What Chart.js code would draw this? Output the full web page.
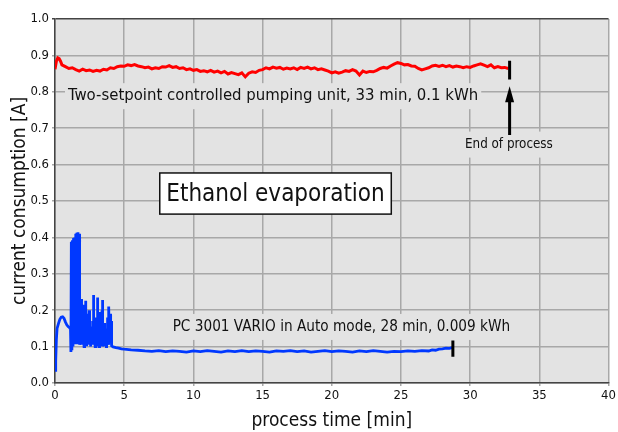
<!DOCTYPE html>
<html>
<head>
<meta charset="utf-8">
<script src="https://cdn.jsdelivr.net/npm/chart.js@4.4.1/dist/chart.umd.min.js"></script>
<style>
  html, body { margin: 0; padding: 0; background: #fff; }
  #wrap { width: 618px; height: 432px; }
</style>
</head>
<body>
<div id="wrap"><canvas id="chart" width="618" height="432"></canvas></div>
<script>
// two-setpoint pumping unit (red)
var redTime = [0, 0.1, 0.2, 0.3, 0.4, 0.5, 0.75, 1, 1.25, 1.5, 1.75, 2, 2.25, 2.5, 2.75, 3, 3.25, 3.5, 3.75, 4,
    4.25, 4.5, 4.75, 5, 5.25, 5.5, 5.75, 6, 6.25, 6.5, 6.75, 7, 7.25, 7.5, 7.75, 8, 8.25, 8.5, 8.75, 9,
    9.25, 9.5, 9.75, 10, 10.25, 10.5, 10.75, 11, 11.25, 11.5, 11.75, 12, 12.25, 12.5, 12.75, 13, 13.25, 13.5, 13.75, 14,
    14.25, 14.5, 14.75, 15, 15.25, 15.5, 15.75, 16, 16.25, 16.5, 16.75, 17, 17.25, 17.5, 17.75, 18, 18.25, 18.5, 18.75, 19,
    19.25, 19.5, 19.75, 20, 20.25, 20.5, 20.75, 21, 21.25, 21.5, 21.75, 22, 22.25, 22.5, 22.75, 23, 23.25, 23.5, 23.75, 24,
    24.25, 24.5, 24.75, 25, 25.25, 25.5, 25.75, 26, 26.25, 26.5, 26.75, 27, 27.25, 27.5, 27.75, 28, 28.25, 28.5, 28.75, 29,
    29.25, 29.5, 29.75, 30, 30.25, 30.5, 30.75, 31, 31.25, 31.5, 31.75, 32, 32.25, 32.5, 32.75];
var redCurrent = [0.862, 0.884, 0.893, 0.891, 0.884, 0.874, 0.869, 0.864, 0.866, 0.861, 0.857, 0.862, 0.858, 0.860, 0.856, 0.859, 0.857, 0.862, 0.860, 0.866,
    0.864, 0.869, 0.871, 0.870, 0.874, 0.872, 0.875, 0.871, 0.869, 0.866, 0.868, 0.863, 0.866, 0.864, 0.869, 0.868, 0.872, 0.867, 0.869, 0.864,
    0.866, 0.861, 0.863, 0.859, 0.861, 0.856, 0.858, 0.855, 0.859, 0.854, 0.857, 0.852, 0.856, 0.849, 0.853, 0.850, 0.847, 0.852, 0.841, 0.851,
    0.855, 0.853, 0.859, 0.861, 0.866, 0.863, 0.868, 0.865, 0.867, 0.862, 0.865, 0.863, 0.866, 0.861, 0.867, 0.864, 0.868, 0.863, 0.866, 0.861,
    0.863, 0.860, 0.857, 0.852, 0.855, 0.851, 0.854, 0.858, 0.856, 0.861, 0.857, 0.846, 0.857, 0.853, 0.856, 0.855, 0.859, 0.864, 0.867, 0.865,
    0.871, 0.876, 0.880, 0.878, 0.874, 0.875, 0.871, 0.870, 0.864, 0.860, 0.863, 0.866, 0.871, 0.873, 0.870, 0.873, 0.869, 0.872, 0.868, 0.871,
    0.869, 0.866, 0.869, 0.867, 0.871, 0.874, 0.877, 0.873, 0.869, 0.874, 0.866, 0.869, 0.866, 0.867, 0.864];

// PC 3001 VARIO (blue)
var blueTime = [0, 0.05, 0.1, 0.15, 0.25, 0.35, 0.45, 0.55, 0.65, 0.75, 0.85, 0.95, 1.05, 1.12,
    1.15, 1.18, 1.22, 1.26, 1.3, 1.34, 1.38, 1.42, 1.46, 1.5, 1.54, 1.58, 1.62, 1.66, 1.7, 1.74, 1.78,
    1.82, 1.84, 1.86, 1.88, 1.9, 1.92, 1.94, 1.96, 1.98, 2.0, 2.02, 2.04, 2.06, 2.08, 2.1, 2.12, 2.14, 2.16, 2.18, 2.2,
    2.22, 2.24, 2.26, 2.28, 2.3, 2.32, 2.34, 2.36, 2.38, 2.4, 2.42, 2.44, 2.46, 2.48, 2.5, 2.52, 2.54, 2.56, 2.58, 2.6,
    2.62, 2.64, 2.66, 2.68, 2.7, 2.72, 2.74, 2.76, 2.78, 2.8, 2.82, 2.84, 2.86, 2.88, 2.9, 2.92, 2.94, 2.96, 2.98, 3.0,
    3.02, 3.04, 3.06, 3.08, 3.1, 3.12, 3.14, 3.16, 3.18, 3.2, 3.22, 3.24, 3.26, 3.28, 3.3, 3.32, 3.34, 3.36, 3.38, 3.4,
    3.42, 3.44, 3.46, 3.48, 3.5, 3.52, 3.54, 3.56, 3.58, 3.6, 3.62, 3.64, 3.66, 3.68, 3.7, 3.72, 3.74, 3.76, 3.78, 3.8,
    3.82, 3.84, 3.86, 3.88, 3.9, 3.92, 3.94, 3.96, 3.98, 4.0, 4.02, 4.04, 4.06, 4.08, 4.1, 4.2, 4.4, 4.6, 4.8, 5,
    5.5, 6, 6.5, 7, 7.5, 8, 8.5, 9, 9.5, 10, 10.5, 11, 11.5, 12, 12.5, 13, 13.5, 14, 14.5, 15,
    15.5, 16, 16.5, 17, 17.5, 18, 18.5, 19, 19.5, 20, 20.5, 21, 21.5, 22, 22.5, 23, 23.5, 24, 24.5, 25,
    25.5, 26, 26.5, 27, 27.25, 27.5, 27.75, 28, 28.25, 28.5, 28.7];
var blueCurrent = [0.035, 0.06, 0.12, 0.15, 0.163, 0.175, 0.181, 0.182, 0.178, 0.168, 0.16, 0.155, 0.152, 0.148,
    0.085, 0.388, 0.09, 0.392, 0.10, 0.398, 0.11, 0.40, 0.12, 0.41, 0.11, 0.413, 0.12, 0.414, 0.11, 0.41, 0.105,
    0.12, 0.16, 0.11, 0.19, 0.231, 0.12, 0.105, 0.15, 0.16, 0.11, 0.13, 0.17, 0.215, 0.12, 0.10, 0.14, 0.17, 0.11, 0.13, 0.16,
    0.226, 0.12, 0.105, 0.14, 0.15, 0.11, 0.19, 0.13, 0.11, 0.14, 0.16, 0.12, 0.20, 0.13, 0.105, 0.15, 0.14, 0.11, 0.10, 0.13,
    0.155, 0.12, 0.11, 0.15, 0.17, 0.12, 0.105, 0.16, 0.242, 0.13, 0.11, 0.14, 0.15, 0.12, 0.10, 0.15, 0.18, 0.12, 0.105, 0.13,
    0.14, 0.17, 0.235, 0.12, 0.11, 0.13, 0.16, 0.12, 0.10, 0.15, 0.195, 0.12, 0.11, 0.14, 0.15, 0.12, 0.105, 0.14, 0.17, 0.20,
    0.228, 0.12, 0.10, 0.13, 0.14, 0.12, 0.11, 0.14, 0.165, 0.12, 0.105, 0.13, 0.13, 0.11, 0.10, 0.13, 0.15, 0.12, 0.11, 0.14,
    0.18, 0.12, 0.105, 0.15, 0.21, 0.13, 0.11, 0.15, 0.19, 0.12, 0.12, 0.15, 0.17, 0.11, 0.102, 0.099, 0.097, 0.096, 0.094, 0.093,
    0.091, 0.090, 0.088, 0.087, 0.089, 0.086, 0.088, 0.087, 0.085, 0.088, 0.086, 0.089, 0.087, 0.085, 0.088, 0.086, 0.089, 0.086, 0.088, 0.087,
    0.085, 0.088, 0.087, 0.089, 0.086, 0.088, 0.085, 0.087, 0.089, 0.086, 0.088, 0.087, 0.085, 0.088, 0.086, 0.089, 0.087, 0.085, 0.087, 0.086,
    0.088, 0.087, 0.089, 0.088, 0.091, 0.090, 0.093, 0.094, 0.096, 0.095, 0.097];

var xTicks = [0, 5, 10, 15, 20, 25, 30, 35, 40];
var yTicks = [0, 0.1, 0.2, 0.3, 0.4, 0.5, 0.6, 0.7, 0.8, 0.9, 1.0];

var FONT = "'DejaVu Sans Condensed', 'DejaVu Sans', sans-serif";
var PLOT_BG = '#e3e3e3';

function toPoints(xs, ys) {
    var pts = [];
    for (let i = 0; i < xs.length; i++) {
        pts.push({ x: xs[i], y: ys[i] });
    }
    return pts;
}

// grey plot area
var plotBackground = {
    id: 'plotBackground',
    beforeDraw: function(chart) {
        var a = chart.chartArea;
        var ctx = chart.ctx;
        ctx.save();
        ctx.fillStyle = PLOT_BG;
        ctx.fillRect(a.left, a.top, a.right - a.left, a.bottom - a.top);
        ctx.restore();
    }
};

function boxedText(ctx, text, x, y, align) {
    var w = ctx.measureText(text).width;
    var left = align === 'center' ? x - w / 2 : x;
    ctx.fillStyle = PLOT_BG;
    ctx.fillRect(left - 3, y - 13, w + 6, 26);
    ctx.fillStyle = '#111';
    ctx.textAlign = align;
    ctx.textBaseline = 'middle';
    ctx.fillText(text, x, y);
}

// texts, end-of-process marks and arrow
var annotations = {
    id: 'annotations',
    beforeDatasetsDraw: function(chart) {
        var ctx = chart.ctx;
        var xs = chart.scales.x, ys = chart.scales.y;
        ctx.save();
        ctx.font = '16.6px ' + FONT;
        boxedText(ctx, 'Two-setpoint controlled pumping unit, 33 min, 0.1 kWh', xs.getPixelForValue(0.94), ys.getPixelForValue(0.788), 'left');
        ctx.font = '15.2px ' + FONT;
        boxedText(ctx, 'PC 3001 VARIO in Auto mode, 28 min, 0.009 kWh', xs.getPixelForValue(8.5), ys.getPixelForValue(0.154), 'left');
        ctx.font = '13.3px ' + FONT;
        boxedText(ctx, 'End of process', xs.getPixelForValue(32.8), ys.getPixelForValue(0.655), 'center');

        // title box
        var bx0 = xs.getPixelForValue(7.57), bx1 = xs.getPixelForValue(24.3);
        var by0 = ys.getPixelForValue(0.577), by1 = ys.getPixelForValue(0.464);
        ctx.fillStyle = '#fff';
        ctx.fillRect(bx0, by0, bx1 - bx0, by1 - by0);
        ctx.strokeStyle = '#111';
        ctx.lineWidth = 1.5;
        ctx.strokeRect(bx0, by0, bx1 - bx0, by1 - by0);
        ctx.font = '24px ' + FONT;
        ctx.fillStyle = '#111';
        ctx.textAlign = 'center';
        ctx.textBaseline = 'middle';
        ctx.fillText('Ethanol evaporation', (bx0 + bx1) / 2, (by0 + by1) / 2 + 1);
        ctx.restore();
    },
    afterDatasetsDraw: function(chart) {
        var ctx = chart.ctx;
        var xs = chart.scales.x, ys = chart.scales.y;
        ctx.save();
        ctx.strokeStyle = '#000';
        ctx.lineWidth = 3;
        var rx = xs.getPixelForValue(32.85);
        ctx.beginPath();
        ctx.moveTo(rx, ys.getPixelForValue(0.885));
        ctx.lineTo(rx, ys.getPixelForValue(0.834));
        var bx = xs.getPixelForValue(28.75);
        ctx.moveTo(bx, ys.getPixelForValue(0.117));
        ctx.lineTo(bx, ys.getPixelForValue(0.072));
        // arrow shaft
        ctx.moveTo(rx, ys.getPixelForValue(0.681));
        ctx.lineTo(rx, ys.getPixelForValue(0.79));
        ctx.stroke();
        // arrow head
        var tip = ys.getPixelForValue(0.815);
        ctx.fillStyle = '#000';
        ctx.beginPath();
        ctx.moveTo(rx, tip);
        ctx.lineTo(rx - 4.5, tip + 16);
        ctx.lineTo(rx + 4.5, tip + 16);
        ctx.closePath();
        ctx.fill();
        ctx.restore();
    }
};

new Chart(document.getElementById('chart'), {
    type: 'line',
    data: {
        datasets: [
            {
                label: 'Two-setpoint controlled pumping unit',
                data: toPoints(redTime, redCurrent),
                borderColor: '#ff0000',
                borderWidth: 3,
                pointRadius: 0,
                tension: 0
            },
            {
                label: 'PC 3001 VARIO',
                data: toPoints(blueTime, blueCurrent),
                borderColor: '#0038ff',
                borderWidth: 2.8,
                pointRadius: 0,
                tension: 0
            }
        ]
    },
    options: {
        responsive: false,
        animation: false,
        layout: { padding: { top: 19, right: 7, left: 0, bottom: 0 } },
        plugins: {
            legend: { display: false },
            tooltip: { enabled: false }
        },
        scales: {
            x: {
                type: 'linear',
                min: 0,
                max: 40,
                afterBuildTicks: function(scale) {
                    scale.ticks = xTicks.map(function(v) { return { value: v }; });
                },
                afterFit: function(scale) { scale.height = 49; },
                ticks: {
                    font: { family: FONT, size: 13 },
                    color: '#111',
                    padding: 2,
                    maxRotation: 0
                },
                grid: {
                    color: '#a8a8a8',
                    lineWidth: 1.5,
                    tickLength: 3
                },
                border: { color: '#444', width: 1.5 },
                title: {
                    display: true,
                    text: 'process time [min]',
                    font: { family: FONT, size: 19 },
                    color: '#111',
                    padding: { top: 0, bottom: 0 }
                }
            },
            y: {
                min: 0,
                max: 1,
                afterBuildTicks: function(scale) {
                    scale.ticks = yTicks.map(function(v) { return { value: v }; });
                },
                afterFit: function(scale) { scale.width = 55; },
                ticks: {
                    font: { family: FONT, size: 13 },
                    color: '#111',
                    padding: 3,
                    callback: function(v) { return Number(v).toFixed(1); }
                },
                grid: {
                    color: function(c) { return c.tick && c.tick.value === 1 ? '#444' : '#a8a8a8'; },
                    lineWidth: 1.5,
                    tickLength: 3
                },
                border: { color: '#444', width: 1.5 },
                title: {
                    display: true,
                    text: 'current consumption [A]',
                    font: { family: FONT, size: 19 },
                    color: '#111',
                    padding: { top: 9, bottom: 0 }
                }
            }
        }
    },
    plugins: [plotBackground, annotations]
});
</script>
</body>
</html>
